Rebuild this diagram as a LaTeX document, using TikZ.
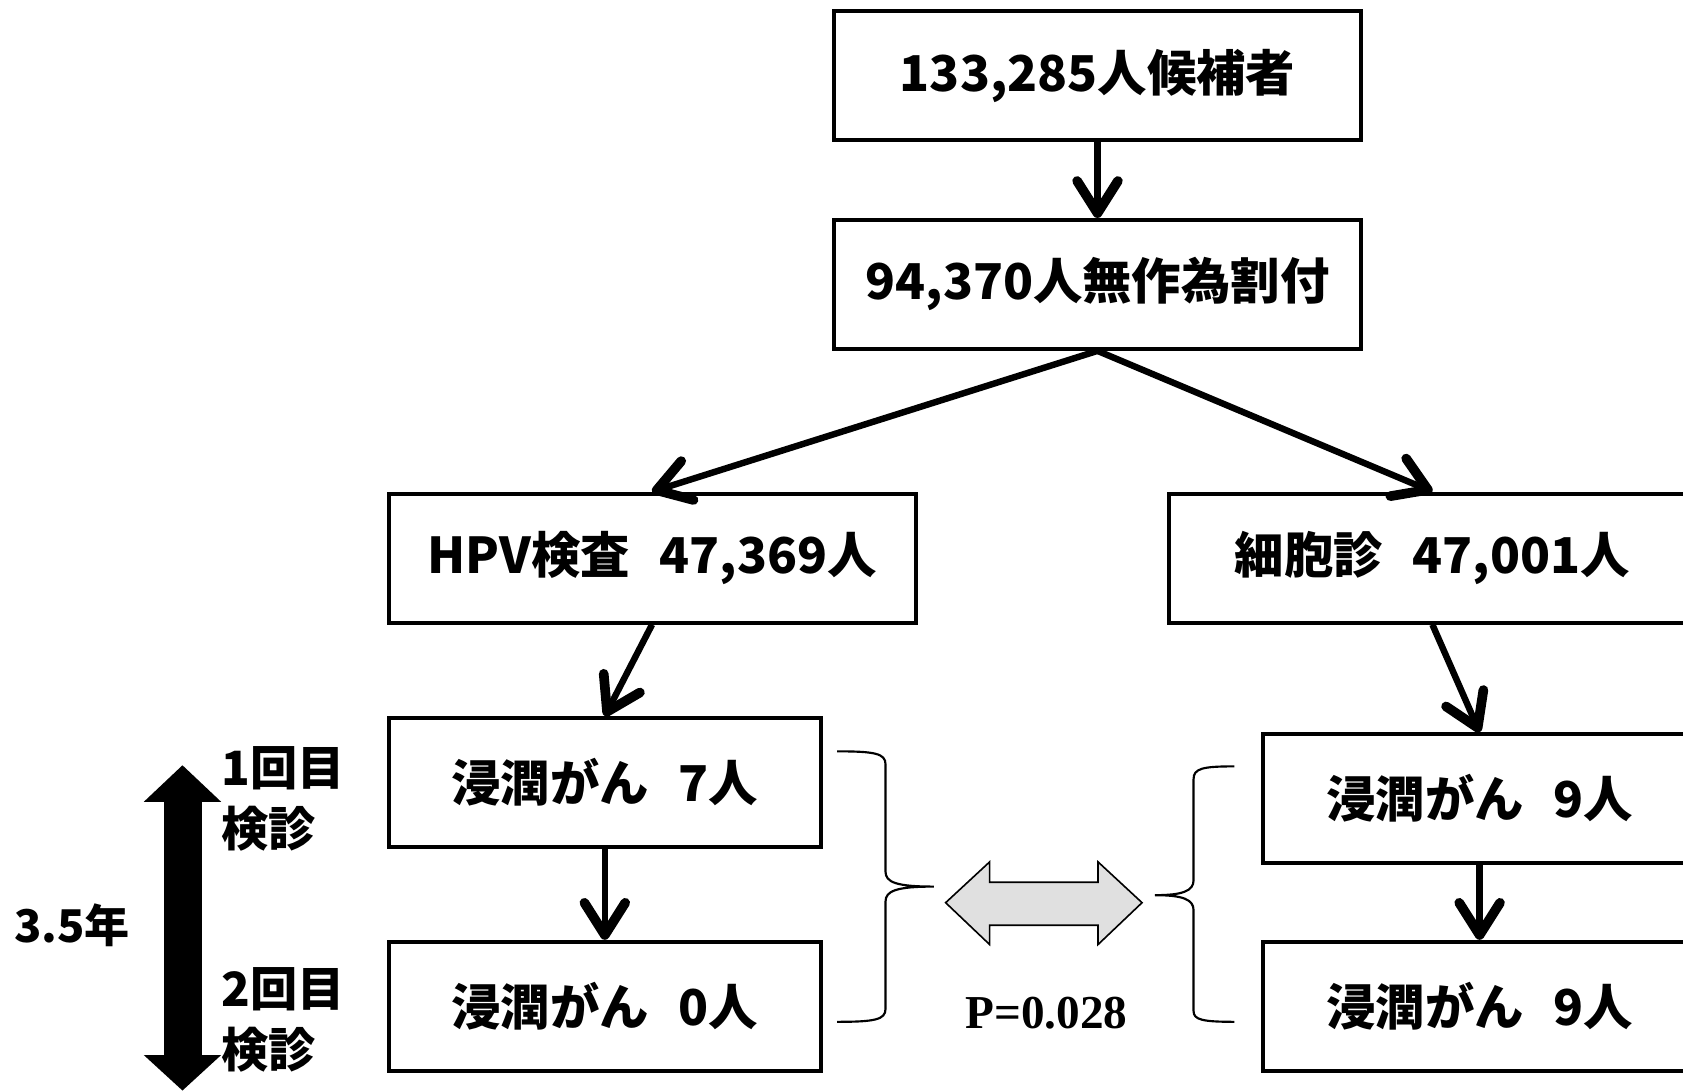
\documentclass[tikz,border=0pt]{standalone}
\usepackage{fontspec}
\usetikzlibrary{arrows.meta}
\newfontfamily\jpfont{Noto Sans CJK JP}
\newfontfamily\serifb{Liberation Serif}
\begin{document}
\begin{tikzpicture}[x=1pt,y=-1pt,
  box/.style={draw, line width=3.8pt, minimum width=491pt, minimum height=120pt, inner sep=0pt,
    font=\jpfont\bfseries\fontsize{46}{50}\selectfont},
  sbox/.style={box, minimum width=403pt},
  flow/.style={line width=6pt, -{Straight Barb[length=30pt,width=38pt,line width=9pt,round]}},
  lab/.style={font=\jpfont\bfseries\fontsize{44}{48}\selectfont, inner sep=0pt},
  brace/.style={line width=2pt}]
\useasboundingbox[fill=white] (0,0) rectangle (1568,1016);

\node[box] (top) at (1022.5,70.5) {133,285人候補者};
\node[box] (rand) at (1022.5,265) {94,370人無作為割付};
\node[box] (hpv) at (607.5,520) {HPV検査\hspace{0.6em}47,369人};
\node[box] (cyt) at (1334.5,520) {細胞診\hspace{0.6em}47,001人};
\node[sbox] (l1) at (563.5,729) {浸潤がん\hspace{0.6em}7人};
\node[sbox] (l2) at (563.5,937.5) {浸潤がん\hspace{0.6em}0人};
\node[sbox] (r1) at (1378.5,744) {浸潤がん\hspace{0.6em}9人};
\node[sbox] (r2) at (1378.5,937.5) {浸潤がん\hspace{0.6em}9人};

\draw[flow] (top.south) -- (rand.north);
\draw[flow] (rand.south) -- (hpv.north);
\draw[flow] (rand.south) -- (cyt.north);
\draw[flow] (hpv.south) -- (l1.north);
\draw[flow] (cyt.south) -- (r1.north);
\draw[flow] (l1.south) -- (l2.north);
\draw[flow] (r1.south) -- (r2.north);

% braces
\draw[brace] (780,700) .. controls (815,700) and (825,702) .. (825,712) -- (825,812)
  .. controls (825,822) and (835,826) .. (870,826)
  .. controls (835,826) and (825,830) .. (825,840) -- (825,940)
  .. controls (825,950) and (815,952) .. (780,952);
\draw[brace] (1150,714) .. controls (1120,714) and (1112,716) .. (1112,726) -- (1112,820)
  .. controls (1112,830) and (1102,834) .. (1076,834)
  .. controls (1102,834) and (1112,838) .. (1112,848) -- (1112,942)
  .. controls (1112,950) and (1120,952) .. (1150,952);

% gray double arrow
\draw[line width=1.5pt, fill=black!12, line join=miter]
  (881,841) -- (922,803) -- (922,822) -- (1023,822) -- (1023,803) -- (1064,841)
  -- (1023,880) -- (1023,862) -- (922,862) -- (922,880) -- cycle;
\node[font=\serifb\bfseries\fontsize{44}{48}\selectfont, inner sep=0pt] (p) at (975,944) {P=0.028};

% black double arrow
\fill (170,713) -- (206,747) -- (188,747) -- (188,983) -- (206,983) -- (170,1016)
  -- (134,983) -- (153,983) -- (153,747) -- (134,747) -- cycle;

\node[lab, anchor=west] (a1) at (206,716) {1回目};
\node[lab, anchor=west] (a2) at (206,772) {検診};
\node[lab, anchor=west] (a3) at (206,922) {2回目};
\node[lab, anchor=west] (a4) at (206,978) {検診};
\node[lab, anchor=west, font=\jpfont\bfseries\fontsize{42}{46}\selectfont] (yr) at (13,862) {3.5年};
\end{tikzpicture}
\end{document}
